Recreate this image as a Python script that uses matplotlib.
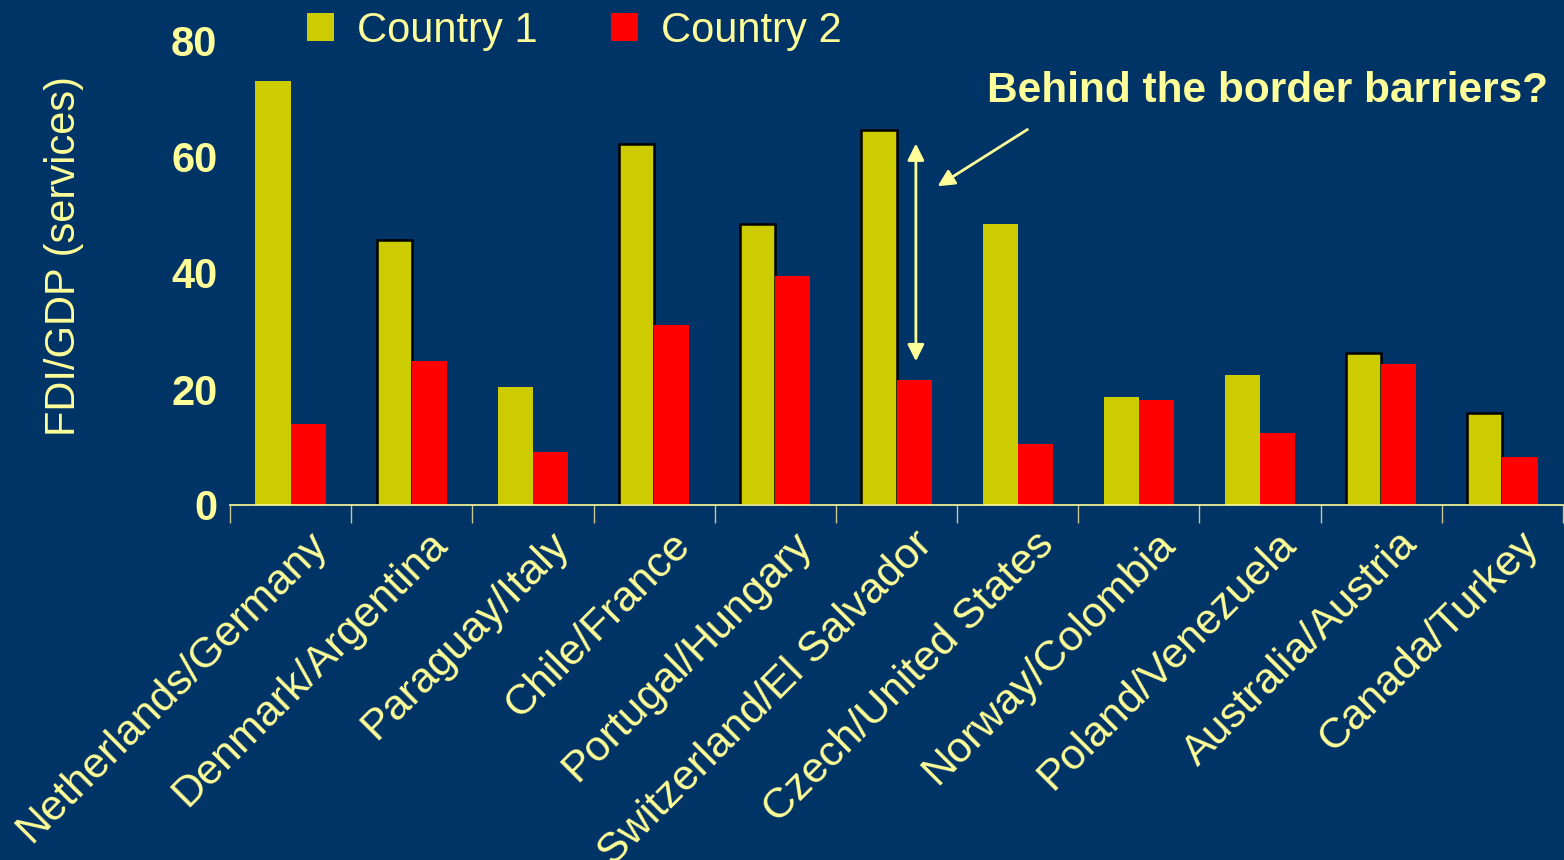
import numpy as np
import matplotlib.pyplot as plt
import matplotlib.transforms as mtransforms
from matplotlib.patches import Patch
from matplotlib.ticker import FixedLocator

plt.rcParams['font.family'] = ['Liberation Sans', 'DejaVu Sans']

# data
pairs = ["Netherlands/Germany", "Denmark/Argentina", "Paraguay/Italy", "Chile/France",
         "Portugal/Hungary", "Switzerland/El Salvador", "Czech/United States",
         "Norway/Colombia", "Poland/Venezuela", "Australia/Austria", "Canada/Turkey"]
country1 = [73.1, 45.7, 20.3, 62.2, 48.4, 64.7, 48.4, 18.6, 22.4, 26.2, 15.9]
country2 = [14.0, 24.8, 9.1, 31.0, 39.5, 21.6, 10.5, 18.1, 12.4, 24.3, 8.3]
outlined = [False, True, False, True, True, True, False, False, False, True, True]
yticks = [0, 20, 40, 60, 80]

bg = '#003366'
txt = '#FFFF99'
c1 = '#CCCC00'
c2 = '#FF0000'

W, H = 1564, 860
fig = plt.figure(figsize=(W/100, H/100), dpi=100, facecolor=bg)
ax = fig.add_axes([230/W, 1-505/H, (1563-230)/W, 464/H])
ax.set_facecolor(bg)

x = np.arange(len(pairs))
bw = 0.29
for i in x:
    ax.bar(i - bw/2, country1[i], bw, color=c1,
           edgecolor='black' if outlined[i] else c1,
           linewidth=1.8 if outlined[i] else 0, zorder=2)
ax.bar(x + bw/2, country2, bw, color=c2, linewidth=0, zorder=2)

ax.set_xlim(-0.5, len(pairs) - 0.5)
ax.set_ylim(0, 80)
for s in ['top', 'right', 'left']:
    ax.spines[s].set_visible(False)
ax.spines['bottom'].set_color(txt)
ax.spines['bottom'].set_linewidth(1.2)

ax.set_yticks(yticks)
ax.set_yticklabels([str(v) for v in yticks], fontsize=30, fontweight='bold', color=txt)
ax.tick_params(axis='y', length=0, pad=9)

ax.set_xticks(x)
ax.set_xticklabels(pairs, rotation=45, ha='right', va='center', rotation_mode='anchor',
                   fontsize=31, color=txt)
ax.tick_params(axis='x', which='major', length=0, pad=24)
shift = mtransforms.ScaledTranslation(30/100, 0, fig.dpi_scale_trans)
for lab in ax.get_xticklabels():
    lab.set_transform(lab.get_transform() + shift)
ax.xaxis.set_minor_locator(FixedLocator(np.arange(-0.5, len(pairs), 1.0)))
ax.tick_params(axis='x', which='minor', length=13, width=1, color='#C8C890', direction='out')

fig.text(64/W, 1-256/H, "FDI/GDP (services)", rotation=90, fontsize=30, color=txt,
         ha='center', va='center')

handles = [Patch(facecolor=c1, edgecolor='none'), Patch(facecolor=c2, edgecolor='none')]
fig.legend(handles, ["Country 1", "Country 2"], ncol=2, frameon=False,
           loc='center left', bbox_to_anchor=(307/W, 1-31/H), fontsize=30,
           labelcolor=txt, handlelength=0.65, handleheight=0.65, handletextpad=0.55,
           columnspacing=1.75, borderpad=0, borderaxespad=0)

fig.text(1548/W, 1-91/H, "Behind the border barriers?", fontsize=30.5, fontweight='bold',
         color=txt, ha='right', va='center')

# arrows
ax.annotate("", xy=(5.16, 62.8), xytext=(5.16, 24.3),
            arrowprops=dict(arrowstyle='<|-|>', color=txt, lw=2, mutation_scale=25))
ax.annotate("", xy=(5.32, 54.7), xytext=(6.1, 65.0),
            arrowprops=dict(arrowstyle='-|>', color=txt, lw=2, mutation_scale=25))

fig.savefig('out.png', dpi=100, facecolor=bg)
